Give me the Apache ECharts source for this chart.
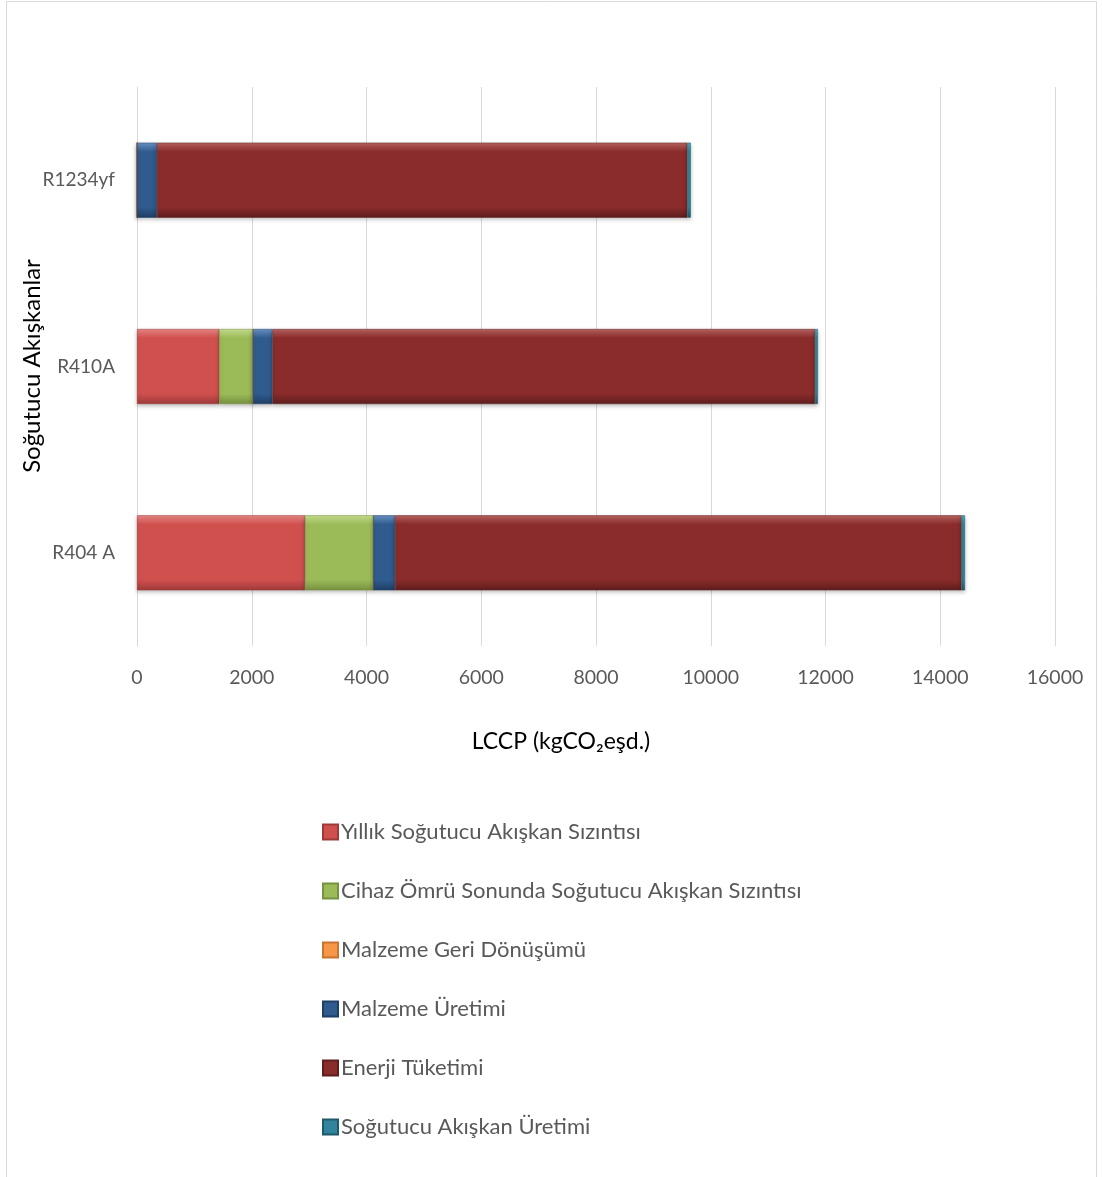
<!DOCTYPE html>
<html>
<head>
<meta charset="utf-8">
<title>LCCP</title>
<script src="https://cdn.jsdelivr.net/npm/echarts@6/dist/echarts.min.js"></script>
<style>
  html, body { margin: 0; padding: 0; background: #fff; }
  #chart { width: 1103px; height: 1177px; }
</style>
</head>
<body>
<div id="chart"></div>
<script>
// veriler (alttan üste)
const categories = ['R404 A', 'R410A', 'R1234yf'];
const yillikSizinti = [2930, 1434, 0];
const omurSonuSizinti = [1190, 587, 0];
const geriDonusum = [0, 0, 0];
const malzemeUretimi = [378, 341, 348];
const enerjiTuketimi = [9873, 9455, 9244];
const akiskanUretimi = [60, 50, 60];
const xTicks = [0, 2000, 4000, 6000, 8000, 10000, 12000, 14000, 16000];

const FONT = 'Lato';

// basit "bevel" görünümü için dikey gradyan
function bevel(base, light, dark) {
    return new echarts.graphic.LinearGradient(0, 0, 0, 1, [
        { offset: 0, color: light },
        { offset: 0.12, color: base },
        { offset: 0.86, color: base },
        { offset: 1, color: dark }
    ]);
}

const seriesDefs = [
    { name: 'Yıllık Soğutucu Akışkan Sızıntısı', data: yillikSizinti, c: ['#d0504e', '#e88886', '#9e3a38'] },
    { name: 'Cihaz Ömrü Sonunda Soğutucu Akışkan Sızıntısı', data: omurSonuSizinti, c: ['#9bbb59', '#c6e08f', '#76913f'] },
    { name: 'Malzeme Geri Dönüşümü', data: geriDonusum, c: ['#f79646', '#fab37a', '#c87531'] },
    { name: 'Malzeme Üretimi', data: malzemeUretimi, c: ['#2f5b8e', '#6a93c5', '#1f3f66'] },
    { name: 'Enerji Tüketimi', data: enerjiTuketimi, c: ['#8a2c2b', '#b86462', '#5e1e1d'] },
    { name: 'Soğutucu Akışkan Üretimi', data: akiskanUretimi, c: ['#31849b', '#4bacc6', '#205a6a'] }
];

const chart = echarts.init(document.getElementById('chart'));

chart.setOption({
    backgroundColor: '#fff',
    animation: false,
    graphic: [
        {
            type: 'rect',
            shape: { x: 6.5, y: 1.5, width: 1090, height: 1200 },
            style: { fill: 'none', stroke: '#d9d9d9', lineWidth: 1 }
        },
        {
            // dikey eksen başlığı
            type: 'text',
            x: 32,
            y: 366,
            rotation: Math.PI / 2,
            style: {
                text: 'Soğutucu Akışkanlar',
                font: '24px Lato',
                fill: '#000',
                align: 'center',
                verticalAlign: 'middle'
            }
        }
    ],
    grid: { left: 137, right: 48, top: 87, bottom: 531 },
    xAxis: {
        type: 'value',
        min: xTicks[0],
        max: xTicks[xTicks.length - 1],
        interval: 2000,
        name: 'LCCP (kgCO₂eşd.)',
        nameLocation: 'middle',
        nameGap: 84,
        nameTextStyle: { fontFamily: FONT, fontSize: 23, color: '#000', padding: [0, 70, 0, 0] },
        axisLine: { show: false },
        axisTick: { show: false },
        axisLabel: { fontFamily: FONT, fontSize: 19.5, color: '#595959', margin: 22, formatter: v => String(v) },
        splitLine: { lineStyle: { color: '#d9d9d9', width: 1 } }
    },
    yAxis: {
        type: 'category',
        data: categories,
        axisLine: { lineStyle: { color: '#d9d9d9' } },
        axisTick: { show: false },
        axisLabel: { fontFamily: FONT, fontSize: 19, color: '#595959', margin: 22 }
    },
    legend: {
        orient: 'vertical',
        left: 317,
        top: 816,
        itemWidth: 15,
        itemHeight: 15,
        itemGap: 37,
        icon: 'rect',
        textStyle: { fontFamily: FONT, fontSize: 22, color: '#595959', padding: [0, 0, 0, -2] },
        data: seriesDefs.map(s => s.name)
    },
    series: seriesDefs.map(s => ({
        name: s.name,
        type: 'bar',
        stack: 'lccp',
        barWidth: 75,
        data: s.data,
        itemStyle: {
            color: bevel(s.c[0], s.c[1], s.c[2]),
            borderColor: s.c[2],
            borderWidth: 0.5,
            shadowColor: 'rgba(0,0,0,0.25)',
            shadowBlur: 4,
            shadowOffsetY: 2
        }
    }))
});
</script>
</body>
</html>
